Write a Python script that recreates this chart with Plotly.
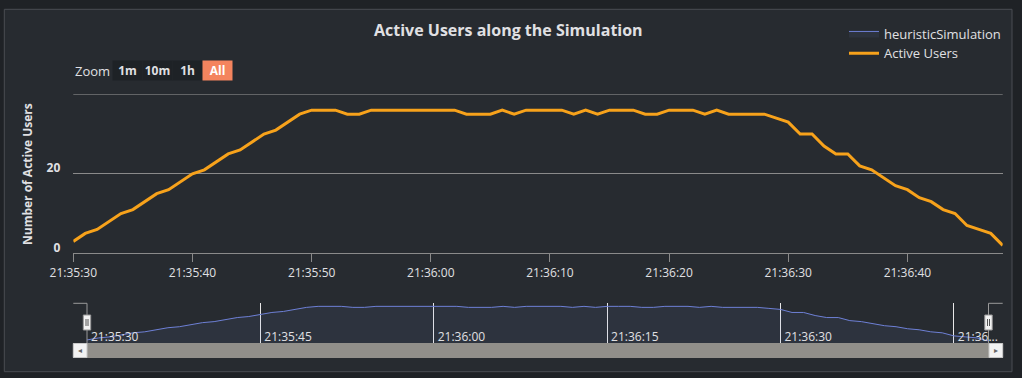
import pandas as pd
import plotly.graph_objects as go

# ---------------- data ----------------
start_time = "2021-01-01 21:35:30"
active_users = [3, 5, 6, 8, 10, 11, 13, 15, 16, 18,
                20, 21, 23, 25, 26, 28, 30, 31, 33, 35,
                36, 36, 36, 35, 35, 36, 36, 36, 36, 36,
                36, 36, 36, 35, 35, 35, 36, 35, 36, 36,
                36, 36, 35, 36, 35, 36, 36, 36, 35, 35,
                36, 36, 36, 35, 36, 35, 35, 35, 35, 34,
                33, 30, 30, 27, 25, 25, 22, 21, 19, 17,
                16, 14, 13, 11, 10, 7, 6, 5, 2]
heuristic_simulation = list(active_users)
times = pd.date_range(start_time, periods=len(active_users), freq="s")

y_tickvals = [0, 20, 40]
y_ticktext = ["0", "20", ""]
nav_tickvals = pd.to_datetime(["2021-01-01 21:35:30", "2021-01-01 21:35:45", "2021-01-01 21:36:00",
                               "2021-01-01 21:36:15", "2021-01-01 21:36:30", "2021-01-01 21:36:45"])
nav_ticktext = ["21:35:30", "21:35:45", "21:36:00", "21:36:15", "21:36:30", "21:36..."]
zoom_buttons = ["1m", "10m", "1h", "All"]

# ---------------- layout helpers ----------------
W, H = 1022, 378
def px(x):
    return x / W
def py(y):
    return 1 - y / H

FONT = "Open Sans"
TXT = "#e0e0e3"
ORANGE = "#f7a21b"
BLUE = "#6e80d6"
GRID = "#8a8a8a"

fig = go.Figure()
fig.add_trace(go.Scatter(
    x=times, y=heuristic_simulation, name="heuristicSimulation",
    xaxis="x2", yaxis="y2", mode="lines",
    line=dict(color=BLUE, width=1),
    fill="tozeroy", fillcolor="rgba(110,128,214,0.09)",
    hoverinfo="skip"))
fig.add_trace(go.Scatter(
    x=times, y=active_users, name="Active Users", mode="lines",
    line=dict(color=ORANGE, width=3)))

shapes = []
# chart panel
shapes.append(dict(type="rect", xref="paper", yref="paper", layer="below",
                   x0=px(4.3), x1=px(1012), y0=py(371.7), y1=py(9.3),
                   fillcolor="#272b30", line=dict(color="#4a4d53", width=1)))
# top grid line (at the range edge)
shapes.append(dict(type="line", xref="x domain", yref="y", layer="below",
                   x0=0, x1=1, y0=y_tickvals[-1], y1=y_tickvals[-1],
                   line=dict(color=GRID, width=1)))
# scrollbar
shapes.append(dict(type="rect", xref="paper", yref="paper",
                   x0=px(73.3), x1=px(1002.7), y0=py(358), y1=py(343),
                   fillcolor="#918f8a", line=dict(width=0)))
for a, b in [(73.3, 87), (989, 1002.7)]:
    shapes.append(dict(type="rect", xref="paper", yref="paper",
                       x0=px(a), x1=px(b), y0=py(357.5), y1=py(343.5),
                       fillcolor="#f2f2f2", line=dict(color="#c8c8c8", width=1)))
# navigator outline
outline = "#9a9a9a"
for (x0, y0, x1, y1) in [(73.3, 303.3, 87, 303.3), (87, 303.3, 87, 343),
                         (988.5, 303.3, 1002.7, 303.3), (988.5, 303.3, 988.5, 343)]:
    shapes.append(dict(type="line", xref="paper", yref="paper",
                       x0=px(x0), x1=px(x1), y0=py(y0), y1=py(y1),
                       line=dict(color=outline, width=1)))
# navigator handles
for cx in [87, 988.5]:
    shapes.append(dict(type="rect", xref="paper", yref="paper",
                       x0=px(cx - 3.7), x1=px(cx + 3.7), y0=py(330), y1=py(315),
                       fillcolor="#f2f2f2", line=dict(color="#999999", width=1)))
    for dx in (-1, 1):
        shapes.append(dict(type="line", xref="paper", yref="paper",
                           x0=px(cx + dx), x1=px(cx + dx), y0=py(326), y1=py(319),
                           line=dict(color="#555555", width=1)))

annotations = []
annotations.append(dict(text="<b>Active Users along the Simulation</b>", xref="paper", yref="paper",
                        x=px(508), y=py(30), xanchor="center", yanchor="middle", showarrow=False,
                        font=dict(family=FONT, size=16, color=TXT)))
annotations.append(dict(text="<b>Number of Active Users</b>", xref="paper", yref="paper",
                        x=px(28), y=py(174), xanchor="center", yanchor="middle", showarrow=False,
                        textangle=-90, font=dict(family=FONT, size=12, color=TXT)))
annotations.append(dict(text="Zoom", xref="paper", yref="paper",
                        x=px(73.3), y=py(71), xanchor="left", yanchor="middle", showarrow=False,
                        font=dict(family=FONT, size=13, color=TXT)))
btn_centers = [127, 157, 187.2, 217.2]
for label, cx in zip(zoom_buttons, btn_centers):
    active = label == "All"
    annotations.append(dict(text="<b>%s</b>" % label, xref="paper", yref="paper",
                            x=px(cx), y=py(70.4), xanchor="center", yanchor="middle",
                            showarrow=False, width=29, height=19, borderpad=0,
                            bgcolor="#f4845e" if active else "#1e2226",
                            font=dict(family=FONT, size=12, color="#ffffff" if active else TXT)))
for x, s in [(80, "◂"), (996, "▸")]:
    annotations.append(dict(text=s, xref="paper", yref="paper", x=px(x), y=py(350.5),
                            xanchor="center", yanchor="middle", showarrow=False,
                            font=dict(family="DejaVu Sans", size=8, color="#666666")))

fig.update_layout(
    width=W, height=H, autosize=False,
    margin=dict(l=0, r=0, t=0, b=0, pad=0, autoexpand=False),
    paper_bgcolor="#1f2226", plot_bgcolor="rgba(0,0,0,0)",
    font=dict(family=FONT, color=TXT),
    showlegend=True,
    legend=dict(x=px(844), y=py(18.5), xanchor="left", yanchor="top",
                bgcolor="rgba(0,0,0,0)", font=dict(family=FONT, size=13, color=TXT),
                tracegroupgap=0, itemwidth=30),
    xaxis=dict(domain=[px(73.3), px(1002.7)], anchor="y", type="date", automargin=False,
               range=[times[0], times[-1]], tickformat="%H:%M:%S",
               tick0=times[0], dtick=10000, ticks="outside", ticklen=8,
               tickcolor=GRID, showline=True, linecolor=GRID, linewidth=1,
               showgrid=False, zeroline=False,
               tickfont=dict(family=FONT, size=12, color=TXT)),
    yaxis=dict(domain=[py(253.3), py(94.3)], anchor="x", range=[0, 40], automargin=False,
               tickvals=y_tickvals, ticktext=y_ticktext, showgrid=True,
               gridcolor=GRID, gridwidth=1, zeroline=False, showline=False,
               ticks="", ticklabelstandoff=12, ticklabelshift=-6,
               tickfont=dict(family=FONT, size=12, color=TXT, weight="bold")),
    xaxis2=dict(domain=[px(87), px(988.5)], anchor="y2", type="date", automargin=False,
                range=[times[0], times[-1]], tickvals=nav_tickvals, ticktext=nav_ticktext,
                ticklabelposition="inside right", ticklabeloverflow="allow",
                ticklabelstandoff=-6, ticklabelshift=4,
                ticks="", showgrid=True, gridcolor="#e8e8e8", gridwidth=1,
                showline=False, zeroline=False,
                tickfont=dict(family=FONT, size=12, color=TXT)),
    yaxis2=dict(domain=[py(343), py(303.3)], anchor="x2", range=[0, 39], automargin=False,
                showgrid=False, showticklabels=False, zeroline=False, showline=False),
    shapes=shapes, annotations=annotations,
)

fig.write_html("out.html", config={"displayModeBar": False},
               post_script="document.body.style.margin='0';document.body.style.background='#1f2226';")
